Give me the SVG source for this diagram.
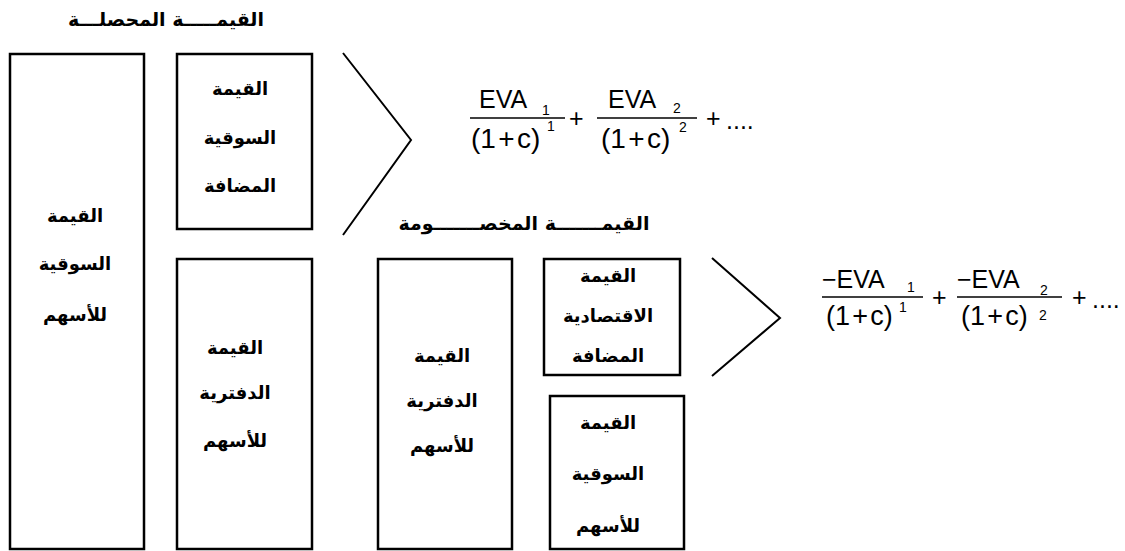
<svg xmlns="http://www.w3.org/2000/svg" width="1125" height="551" viewBox="0 0 1125 551">
<style>
.box{fill:#fff;stroke:#000;stroke-width:2.5}
.chev{fill:none;stroke:#000;stroke-width:2}
.ar{font-family:"DejaVu Sans",sans-serif;font-weight:bold;font-size:18px;fill:#000;text-anchor:middle}
.t{font-size:19px}
.m{font-family:"Liberation Sans",Arial,sans-serif;font-size:25px;fill:#000}
.d{font-family:"Liberation Sans",Arial,sans-serif;font-size:28px;fill:#000}
.d2{font-family:"Liberation Sans",Arial,sans-serif;font-size:27px;fill:#000}
.s{font-family:"Liberation Sans",Arial,sans-serif;font-size:14px;fill:#000}
.fl{stroke:#000;stroke-width:1.3}
</style>
<rect width="1125" height="551" fill="#fff"/>
<text class="ar t" x="166" y="26">القيمـــــة المحصلـــة</text>
<text class="ar t" x="524" y="230">القيمـــــــة المخصـــــــومة</text>
<g id="n1"><rect class="box" x="10" y="54" width="134" height="495"/>
<text class="ar" x="75" y="222">القيمة</text><text class="ar" x="75" y="270">السوقية</text><text class="ar" x="75" y="321">للأسهم</text></g>
<g id="n2"><rect class="box" x="177" y="54" width="135" height="175"/>
<text class="ar" x="240" y="95">القيمة</text><text class="ar" x="240" y="144">السوقية</text><text class="ar" x="240" y="192">المضافة</text></g>
<g id="n3"><rect class="box" x="177" y="259" width="135" height="290"/>
<text class="ar" x="235" y="354">القيمة</text><text class="ar" x="235" y="399">الدفترية</text><text class="ar" x="235" y="447">للأسهم</text></g>
<g id="n4"><rect class="box" x="378" y="259" width="134" height="290"/>
<text class="ar" x="442" y="362">القيمة</text><text class="ar" x="442" y="407">الدفترية</text><text class="ar" x="442" y="452">للأسهم</text></g>
<g id="n5"><rect class="box" x="544" y="259" width="136" height="116"/>
<text class="ar" x="608" y="282">القيمة</text><text class="ar" x="608" y="322">الاقتصادية</text><text class="ar" x="608" y="362">المضافة</text></g>
<g id="n6"><rect class="box" x="550" y="396" width="134" height="153"/>
<text class="ar" x="608" y="429">القيمة</text><text class="ar" x="608" y="480">السوقية</text><text class="ar" x="608" y="532">للأسهم</text></g>
<g id="connectors">
<polyline class="chev" points="343,53 411,140 343,235"/>
<polyline class="chev" points="712,258 780,318 712,376"/>
</g>
<g id="formula1">
<text class="m" x="479" y="108">EVA</text><text class="s" x="542" y="115">1</text>
<line class="fl" x1="470" y1="118" x2="565" y2="118"/>
<text class="d" x="471" y="148">(1&#x200A;+&#x200A;c)</text><text class="s" x="547" y="131">1</text>
<text class="m" x="569" y="127">+</text>
<text class="m" x="608" y="108">EVA</text><text class="s" x="673" y="113">2</text>
<line class="fl" x1="597" y1="118" x2="697" y2="118"/>
<text class="d" x="601" y="148">(1&#x200A;+&#x200A;c)</text><text class="s" x="679" y="132">2</text>
<text class="m" x="706" y="127">+</text>
<text class="m" x="726" y="129">....</text>
</g>
<g id="formula2">
<text class="m" x="822" y="288">−EVA</text><text class="s" x="907" y="292">1</text>
<line class="fl" x1="822" y1="297" x2="923" y2="297"/>
<text class="d2" x="826" y="325">(1&#x200A;+&#x200A;c)</text><text class="s" x="899" y="312">1</text>
<text class="m" x="932" y="306">+</text>
<text class="m" x="957" y="288">−EVA</text><text class="s" x="1040" y="295">2</text>
<line class="fl" x1="957" y1="297" x2="1062" y2="297"/>
<text class="d2" x="961" y="325">(1&#x200A;+&#x200A;c)</text><text class="s" x="1039" y="320">2</text>
<text class="m" x="1072" y="306">+</text>
<text class="m" x="1092" y="308">....</text>
</g>
</svg>
